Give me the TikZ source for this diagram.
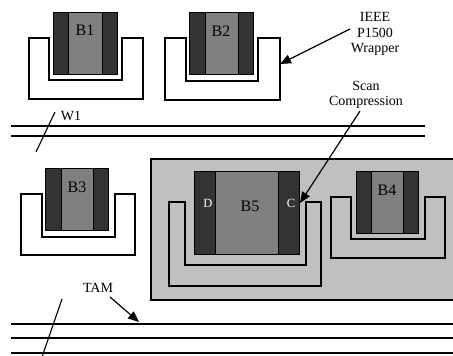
\documentclass[tikz,border=0pt]{standalone}
\usepackage{fontspec}
\setmainfont{Liberation Serif}
\usetikzlibrary{arrows.meta}
\definecolor{bardark}{HTML}{333333}
\definecolor{coremid}{HTML}{808080}
\definecolor{boxlight}{HTML}{C0C0C0}
\tikzset{
  ln/.style={line width=1.1pt},
  barrect/.style={draw=black,line width=1pt,fill=bardark},
  midrect/.style={draw=black,line width=1pt,fill=coremid},
  wrapw/.style={draw=black,line width=1.1pt,fill=white},
  wrapg/.style={draw=black,line width=1.1pt,fill=boxlight},
  lbl/.style={font=\fontsize{14}{15.2}\selectfont,align=center,inner sep=0pt},
  blbl/.style={font=\fontsize{16}{17}\selectfont,inner sep=0pt},
  dclbl/.style={font=\fontsize{12.5}{13}\selectfont,text=white,inner sep=0pt},
  arr/.style={line width=1.2pt,-{Triangle[length=11pt,width=9pt]}}
}
% wrapper: #1 style, #2 xo1, #3 xi1, #4 xi2, #5 xo2, #6 ytop, #7 yib, #8 yob
\newcommand{\wrapU}[8]{%
  \path[#1] (#2,#6) -- (#3,#6) -- (#3,#7) -- (#4,#7) -- (#4,#6) -- (#5,#6) -- (#5,#8) -- (#2,#8) -- cycle;}
% core: #1 x1, #2 lbar right, #3 rbar left, #4 x2, #5 ytop, #6 ybot
\newcommand{\coreblk}[6]{%
  \path[midrect] (#2,#5) rectangle (#3,#6);
  \path[barrect] (#1,#5) rectangle (#2,#6);
  \path[barrect] (#3,#5) rectangle (#4,#6);}
\begin{document}
\begin{tikzpicture}[x=1pt,y=-1pt]
\useasboundingbox (0,0) rectangle (453,356);
% gray region
\fill[boxlight] (151,159) rectangle (453,300);
\draw[ln] (453,159) -- (151,159) -- (151,300) -- (453,300);
% wrappers
\wrapU{wrapw}{29}{49}{122}{143}{38}{80}{99}
\wrapU{wrapw}{165}{186}{258}{280}{38}{81}{100}
\wrapU{wrapw}{21}{42}{115}{135}{194}{237}{255}
\wrapU{wrapg}{169}{185}{306}{321}{202}{265}{286}
\wrapU{wrapg}{331}{351}{425}{445}{197}{239}{258}
% cores
\coreblk{53}{68}{102}{117}{12}{74}
\coreblk{189}{205}{238}{253}{12}{74}
\coreblk{45}{61}{93}{108}{168}{230}
\coreblk{194}{215}{278}{299}{171}{254}
\coreblk{356}{371}{403}{418}{171}{233}
% core labels
\node[blbl] (b1) at (85,30) {B1};
\node[blbl] (b2) at (221,31) {B2};
\node[blbl] (b3) at (77,187) {B3};
\node[blbl] (b5) at (250,206) {B5};
\node[blbl] (b4) at (387,190) {B4};
\node[dclbl] (d) at (208,203) {D};
\node[dclbl] (c) at (291,203) {C};
% buses
\draw[ln] (11,126) -- (425,126);
\draw[ln] (11,136) -- (425,136);
\draw[ln] (11,324) -- (453,324);
\draw[ln] (11,338) -- (453,338);
\draw[ln] (11,353) -- (453,353);
% bus slashes
\coordinate (w1a) at (36,152);
\coordinate (w1b) at (55,112);
\draw[ln] (w1a) -- (w1b);
\coordinate (tama) at (62,299);
\coordinate (tamb) at (42,357);
\draw[ln] (tama) -- (tamb);
% text labels
\node[lbl] (w1) at (71,116) {W1};
\node[lbl] (ieee) at (375,34) {IEEE\\P1500\\Wrapper};
\node[lbl] (scan) at (366,95) {Scan\\Compression};
\node[lbl] (tam) at (98,288) {TAM};
% arrows
\coordinate (ieeeS) at (350,29);
\coordinate (ieeeT) at (280,64);
\draw[arr] (ieeeS) -- (ieeeT);
\coordinate (scanS) at (360,111);
\coordinate (scanT) at (300,203);
\draw[arr] (scanS) -- (scanT);
\coordinate (tamS) at (110,297);
\coordinate (tamT) at (139,322);
\draw[arr] (tamS) -- (tamT);
\end{tikzpicture}
\end{document}
